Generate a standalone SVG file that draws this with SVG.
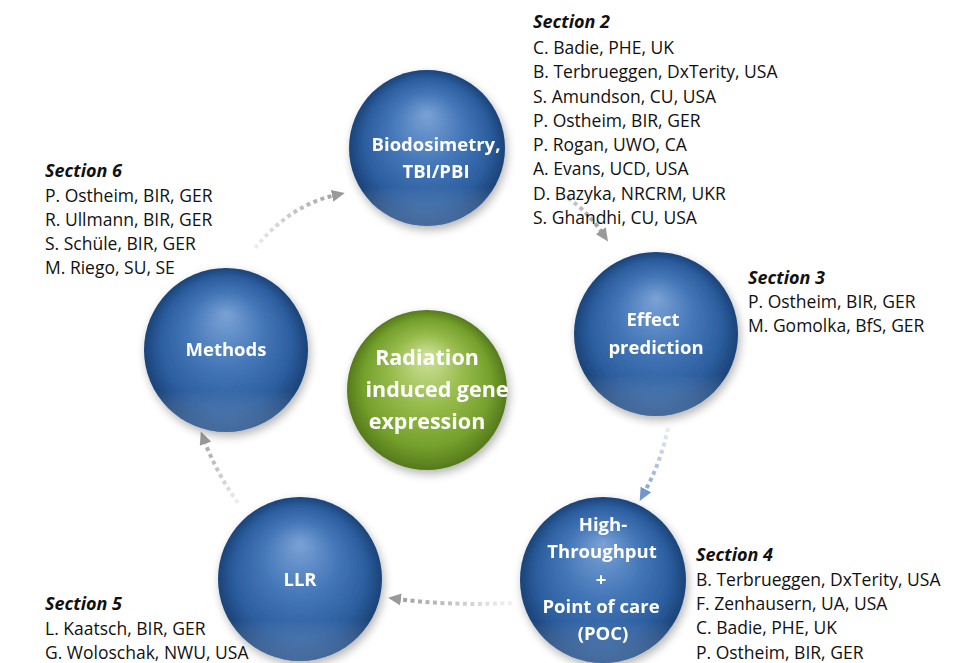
<svg xmlns="http://www.w3.org/2000/svg" width="964" height="663" viewBox="0 0 964 663">
<defs>
<radialGradient id="gb" cx="50%" cy="50%" r="50%" fx="50%" fy="28%">
<stop offset="0" stop-color="#7aa2d6"/>
<stop offset="0.45" stop-color="#4577b8"/>
<stop offset="0.8" stop-color="#2c5e9f"/>
<stop offset="1" stop-color="#1b4378"/>
</radialGradient>
<radialGradient id="gg" cx="50%" cy="50%" r="50%" fx="50%" fy="28%">
<stop offset="0" stop-color="#cfe39a"/>
<stop offset="0.45" stop-color="#97bb4c"/>
<stop offset="0.8" stop-color="#74a02c"/>
<stop offset="1" stop-color="#557a1c"/>
</radialGradient>
<linearGradient id="rim" x1="0" y1="0" x2="0" y2="1">
<stop offset="0.75" stop-color="#ffffff" stop-opacity="0"/>
<stop offset="1" stop-color="#8fb3e3" stop-opacity="0.35"/>
</linearGradient>
<linearGradient id="a1" gradientUnits="userSpaceOnUse" x1="255" y1="248" x2="340" y2="194"><stop offset="0" stop-color="#eee"/><stop offset="1" stop-color="#a0a0a0"/></linearGradient>
<linearGradient id="a2" gradientUnits="userSpaceOnUse" x1="568" y1="198" x2="606" y2="238"><stop offset="0" stop-color="#ccc"/><stop offset="1" stop-color="#999"/></linearGradient>
<linearGradient id="a3" gradientUnits="userSpaceOnUse" x1="668" y1="428" x2="642" y2="497"><stop offset="0" stop-color="#e6ecf6"/><stop offset="1" stop-color="#7f9fd0"/></linearGradient>
<linearGradient id="a4" gradientUnits="userSpaceOnUse" x1="512" y1="603" x2="393" y2="598"><stop offset="0" stop-color="#f2f2f2"/><stop offset="1" stop-color="#999"/></linearGradient>
<linearGradient id="a5" gradientUnits="userSpaceOnUse" x1="238" y1="503" x2="202" y2="436"><stop offset="0" stop-color="#eee"/><stop offset="1" stop-color="#a0a0a0"/></linearGradient>
<filter id="sh" x="-30%" y="-30%" width="160%" height="160%">
<feGaussianBlur in="SourceAlpha" stdDeviation="5"/>
<feOffset dx="2" dy="4"/>
<feComponentTransfer><feFuncA type="linear" slope="0.3"/></feComponentTransfer>
<feMerge><feMergeNode/><feMergeNode in="SourceGraphic"/></feMerge>
</filter>
<marker id="ah" markerWidth="13" markerHeight="12" refX="4" refY="6" orient="auto" markerUnits="userSpaceOnUse" viewBox="0 0 13 12">
<path d="M0,0 L13,6 L0,12 Z" fill="#999"/>
</marker>
<marker id="ahb" markerWidth="13" markerHeight="12" refX="4" refY="6" orient="auto" markerUnits="userSpaceOnUse" viewBox="0 0 13 12">
<path d="M0,0 L13,6 L0,12 Z" fill="#7397cc"/>
</marker>
</defs>
<style>
.nt{font-family:"Open Sans","Liberation Sans",Arial,sans-serif;font-size:17.5px;fill:#111}
.sec{font-family:"Open Sans","Liberation Sans",Arial,sans-serif;font-size:18px;font-weight:bold;font-style:italic;fill:#111}
.st{font-family:"Open Sans","Liberation Sans",Arial,sans-serif;font-size:18.5px;font-weight:bold;fill:#fff;text-anchor:middle}
.gt{font-family:"Open Sans","Liberation Sans",Arial,sans-serif;font-size:21.5px;font-weight:bold;fill:#fff;text-anchor:middle}
.ar{fill:none;stroke-width:4;stroke-dasharray:4 3.5}
</style>
<rect width="964" height="663" fill="#fff"/>
<g id="connectors">
<path class="ar" d="M255,248 Q290,205 336,195" stroke="url(#a1)" marker-end="url(#ah)"/>
<path class="ar" d="M568,198 Q588,212 603,234" stroke="url(#a2)" marker-end="url(#ah)"/>
<path class="ar" d="M668,428 Q661,462 644,493" stroke="url(#a3)" marker-end="url(#ahb)"/>
<path class="ar" d="M512,603 Q450,606 397,599" stroke="url(#a4)" marker-end="url(#ah)"/>
<path class="ar" d="M238,503 Q216,472 204,440" stroke="url(#a5)" marker-end="url(#ah)"/>
</g>
<g id="biodosimetry" filter="url(#sh)">
<circle cx="427" cy="148" r="78" fill="url(#gb)"/>
<circle cx="427" cy="148" r="78" fill="url(#rim)"/>
<text class="st" x="436" y="151">Biodosimetry,</text>
<text class="st" x="436" y="178">TBI/PBI</text>
</g>
<g id="effect" filter="url(#sh)">
<circle cx="656" cy="334" r="82" fill="url(#gb)"/>
<circle cx="656" cy="334" r="82" fill="url(#rim)"/>
<text class="st" x="653" y="326">Effect</text>
<text class="st" x="656" y="354">prediction</text>
</g>
<g id="methods" filter="url(#sh)">
<circle cx="226" cy="350" r="82" fill="url(#gb)"/>
<circle cx="226" cy="350" r="82" fill="url(#rim)"/>
<text class="st" x="226" y="356">Methods</text>
</g>
<g id="center" filter="url(#sh)">
<circle cx="427" cy="390" r="80" fill="url(#gg)"/>
<text class="gt" x="427" y="365">Radiation</text>
<text class="gt" x="437" y="397">induced gene</text>
<text class="gt" x="427" y="429">expression</text>
</g>
<g id="llr" filter="url(#sh)">
<circle cx="300" cy="579" r="82" fill="url(#gb)"/>
<circle cx="300" cy="579" r="82" fill="url(#rim)"/>
<text class="st" x="300" y="586">LLR</text>
</g>
<g id="hts" filter="url(#sh)">
<circle cx="603" cy="580" r="83" fill="url(#gb)"/>
<circle cx="603" cy="580" r="83" fill="url(#rim)"/>
<text class="st" x="603" y="531">High-</text>
<text class="st" x="602" y="558">Throughput</text>
<text class="st" x="601" y="586">+</text>
<text class="st" x="601" y="613">Point of care</text>
<text class="st" x="603" y="640">(POC)</text>
</g>
<g id="section2">
<text class="sec" x="533" y="28">Section 2</text>
<text class="nt" x="533" y="54">C. Badie, PHE, UK</text>
<text class="nt" x="533" y="78">B. Terbrueggen, DxTerity, USA</text>
<text class="nt" x="533" y="103">S. Amundson, CU, USA</text>
<text class="nt" x="533" y="127">P. Ostheim, BIR, GER</text>
<text class="nt" x="533" y="151">P. Rogan, UWO, CA</text>
<text class="nt" x="533" y="175">A. Evans, UCD, USA</text>
<text class="nt" x="533" y="200">D. Bazyka, NRCRM, UKR</text>
<text class="nt" x="533" y="224">S. Ghandhi, CU, USA</text>
</g>
<g id="section6">
<text class="sec" x="45" y="177">Section 6</text>
<text class="nt" x="45" y="202">P. Ostheim, BIR, GER</text>
<text class="nt" x="45" y="226">R. Ullmann, BIR, GER</text>
<text class="nt" x="45" y="250">S. Schüle, BIR, GER</text>
<text class="nt" x="45" y="274">M. Riego, SU, SE</text>
</g>
<g id="section3">
<text class="sec" x="748" y="284">Section 3</text>
<text class="nt" x="748" y="308">P. Ostheim, BIR, GER</text>
<text class="nt" x="748" y="332">M. Gomolka, BfS, GER</text>
</g>
<g id="section4">
<text class="sec" x="696" y="561">Section 4</text>
<text class="nt" x="696" y="586">B. Terbrueggen, DxTerity, USA</text>
<text class="nt" x="696" y="610">F. Zenhausern, UA, USA</text>
<text class="nt" x="696" y="634">C. Badie, PHE, UK</text>
<text class="nt" x="696" y="659">P. Ostheim, BIR, GER</text>
</g>
<g id="section5">
<text class="sec" x="45" y="610">Section 5</text>
<text class="nt" x="45" y="635">L. Kaatsch, BIR, GER</text>
<text class="nt" x="45" y="659">G. Woloschak, NWU, USA</text>
</g>
</svg>
